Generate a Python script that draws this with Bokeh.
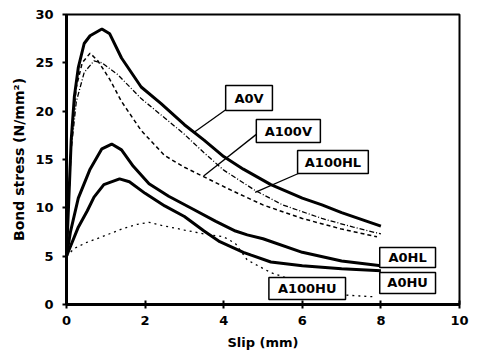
from bokeh.plotting import figure
from bokeh.models import Range1d, FixedTicker
from bokeh.embed import file_html
from bokeh.resources import INLINE
from bokeh.core.properties import value

# ---- data ----
a0v_x = [0, 0.05, 0.12, 0.2, 0.3, 0.45, 0.6, 0.9, 1.1, 1.4, 1.9, 2.4, 3.0, 3.5, 4.0, 4.5, 5.2, 6.0, 6.5, 7.0, 8.0]
a0v_y = [5, 10, 17, 21.5, 24.5, 27, 27.8, 28.5, 28.0, 25.5, 22.5, 20.8, 18.6, 17.0, 15.3, 14.0, 12.4, 11.0, 10.3, 9.5, 8.1]

a100v_x = [0, 0.05, 0.12, 0.25, 0.4, 0.6, 0.8, 1.1, 1.4, 1.9, 2.5, 3.0, 3.5, 4.2, 5.0, 6.0, 7.0, 7.9]
a100v_y = [5, 10, 17, 22.5, 25, 26, 25.2, 23.3, 21.0, 18.0, 15.4, 14.2, 13.2, 11.8, 10.3, 8.9, 7.8, 7.0]

a100hl_x = [0, 0.05, 0.12, 0.25, 0.45, 0.7, 0.9, 1.3, 1.9, 2.5, 3.0, 3.5, 4.0, 4.8, 5.5, 6.5, 7.3, 8.0]
a100hl_y = [5, 10, 16, 21, 24, 25.2, 25.0, 23.8, 21.3, 19.3, 17.6, 15.7, 13.9, 11.8, 10.3, 8.9, 8.0, 7.3]

a0hl_x = [0, 0.1, 0.3, 0.6, 0.9, 1.15, 1.4, 1.7, 2.1, 2.6, 3.2, 3.8, 4.3, 4.6, 5.0, 6.0, 7.0, 8.0]
a0hl_y = [5, 7.5, 11, 14, 16.1, 16.6, 16.0, 14.3, 12.5, 11.2, 9.9, 8.6, 7.6, 7.2, 6.8, 5.4, 4.5, 4.0]

a0hu_x = [0, 0.1, 0.3, 0.53, 0.7, 0.95, 1.35, 1.6, 2.0, 2.5, 3.0, 3.5, 3.9, 4.5, 4.7, 5.2, 6.0, 7.0, 8.0]
a0hu_y = [5, 6, 8, 9.7, 11.1, 12.4, 13.0, 12.7, 11.5, 10.2, 9.1, 7.6, 6.5, 5.4, 5.1, 4.4, 4.0, 3.7, 3.5]

a100hu_x = [0, 0.2, 0.5, 0.9, 1.4, 1.8, 2.1, 2.4, 3.0, 3.5, 4.0, 4.3, 4.6, 5.2, 6.0, 7.0, 7.8]
a100hu_y = [5, 5.8, 6.4, 7.0, 7.8, 8.3, 8.5, 8.2, 7.7, 7.3, 7.0, 6.3, 4.6, 3.3, 2.2, 1.0, 0.8]

x_ticks = [0, 2, 4, 6, 8, 10]
y_ticks = [0, 5, 10, 15, 20, 25, 30]

label_names = ["A0V", "A100V", "A100HL", "A0HL", "A0HU", "A100HU"]
label_left = [4.05, 4.83, 5.88, 7.97, 7.97, 5.15]
label_right = [5.24, 6.46, 7.68, 9.39, 9.39, 7.10]
label_top = [22.65, 19.13, 15.92, 5.89, 3.31, 2.80]
label_bottom = [20.06, 16.75, 13.55, 3.83, 1.14, 0.52]

ptr_x0 = [4.07, 4.83, 5.90]
ptr_y0 = [20.2, 17.6, 13.55]
ptr_x1 = [3.24, 3.49, 4.80]
ptr_y1 = [17.8, 13.3, 11.6]

FONT = "DejaVu Sans"

p = figure(width=470, height=352, output_backend="svg", toolbar_location=None,
           x_range=Range1d(0, 10), y_range=Range1d(0, 30),
           min_border_left=66, min_border_right=11, min_border_top=14, min_border_bottom=48)
p.grid.visible = False
p.background_fill_color = "white"
p.border_fill_color = "white"
p.outline_line_color = "black"
p.outline_line_width = 2

p.xaxis.ticker = FixedTicker(ticks=x_ticks)
p.yaxis.ticker = FixedTicker(ticks=y_ticks)
for ax in (p.xaxis[0], p.yaxis[0]):
    ax.axis_line_width = 3
    ax.axis_line_color = "black"
    ax.major_tick_line_width = 2
    ax.major_tick_line_color = "black"
    ax.minor_tick_line_color = None
    ax.major_label_text_font = FONT
    ax.major_label_text_font_style = "bold"
    ax.major_label_text_font_size = "13px"
    ax.major_label_text_color = "black"
    ax.axis_label_text_font = FONT
    ax.axis_label_text_font_style = "bold"
    ax.axis_label_text_color = "black"

p.xaxis.axis_label_text_font_size = "13px"
p.yaxis.axis_label_text_font_size = "14px"
p.xaxis.major_tick_in = 4
p.xaxis.major_tick_out = 4
p.yaxis.major_tick_in = 0
p.yaxis.major_tick_out = 4
p.xaxis.major_label_standoff = 7
p.yaxis.major_label_standoff = 9
p.xaxis.axis_label = "Slip (mm)"
p.yaxis.axis_label = "Bond stress (N/mm²)"
p.xaxis.axis_label_standoff = 7
p.yaxis.axis_label_standoff = 5

# curves
p.line(a0v_x, a0v_y, line_color="black", line_width=3)
p.line(a0hl_x, a0hl_y, line_color="black", line_width=3)
p.line(a0hu_x, a0hu_y, line_color="black", line_width=3)
p.line(a100v_x, a100v_y, line_color="black", line_width=1.5, line_dash="4 3")
p.line(a100hl_x, a100hl_y, line_color="black", line_width=1.3, line_dash="5 2 1 2")
p.line(a100hu_x, a100hu_y, line_color="black", line_width=1.3, line_dash="2 4")

# label pointers
p.segment(ptr_x0, ptr_y0, ptr_x1, ptr_y1, line_color="black", line_width=1.3)

# label boxes
p.quad(left=label_left, right=label_right, top=label_top, bottom=label_bottom,
       fill_color="white", line_color="black", line_width=1.5)
cx = [(l + r) / 2 for l, r in zip(label_left, label_right)]
cy = [(t + b) / 2 for t, b in zip(label_top, label_bottom)]
p.text(cx, cy, text=label_names, text_align="center", text_baseline="middle",
       text_font=value(FONT), text_font_style="bold", text_font_size="13px",
       text_color="black")

open("out.html", "w").write(file_html(p, INLINE))
